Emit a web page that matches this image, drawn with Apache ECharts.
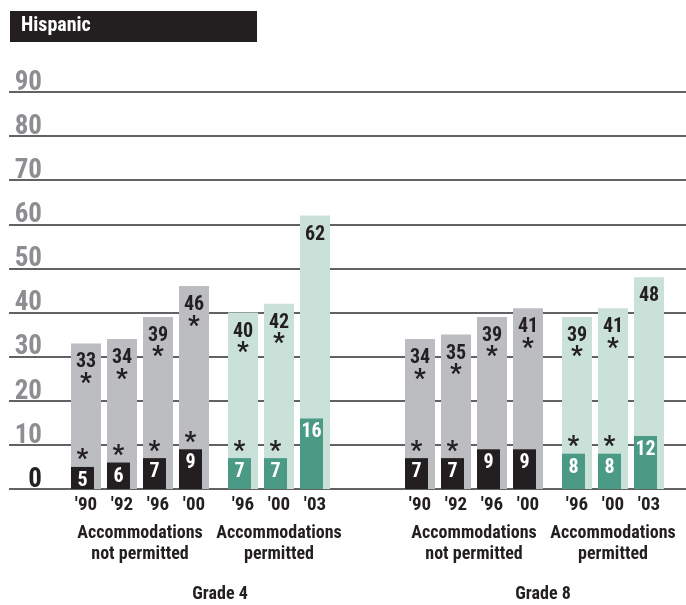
<!DOCTYPE html>
<html>
<head>
<meta charset="utf-8">
<script src="https://cdn.jsdelivr.net/npm/echarts@6/dist/echarts.min.js"></script>
<style>
  html, body { margin: 0; padding: 0; background: #fff; }
  #chart { width: 686px; height: 605px; }
</style>
</head>
<body>
<div id="chart"></div>
<script>
// Hispanic students: percentage at or above Basic / Proficient, by grade and year
const FONT = '"Roboto Condensed", "Open Sans", sans-serif';

const yMax = 90;
const yStep = 10;

const yearsNotPermitted = ["'90", "'92", "'96", "'00"];
const yearsPermitted = ["'96", "'00", "'03"];

// Grade 4
const g4BasicNP = [33, 34, 39, 46];
const g4ProfNP = [5, 6, 7, 9];
const g4BasicP = [40, 42, 62];
const g4ProfP = [7, 7, 16];
const g4BasicNPSig = [true, true, true, true];
const g4ProfNPSig = [true, true, true, true];
const g4BasicPSig = [true, true, false];
const g4ProfPSig = [true, true, false];

// Grade 8
const g8BasicNP = [34, 35, 39, 41];
const g8ProfNP = [7, 7, 9, 9];
const g8BasicP = [39, 41, 48];
const g8ProfP = [8, 8, 12];
const g8BasicNPSig = [true, true, true, true];
const g8ProfNPSig = [true, true, false, false];
const g8BasicPSig = [true, true, false];
const g8ProfPSig = [true, true, false];

const groupNames = ['Accommodations\nnot permitted', 'Accommodations\npermitted'];
const gradeNames = ['Grade 4', 'Grade 8'];
const titleText = 'Hispanic';

const COLORS = {
  npLight: '#bcbdc1',
  npDark: '#231f20',
  pLight: '#cae1da',
  pDark: '#4a9a86',
  grid: '#626265',
  tick: '#8d8e91',
  ink: '#231f20'
};

const TOP = 92, BOTTOM = 116;

const groups = [
  { left: 68,  width: 144, cats: yearsNotPermitted, basic: g4BasicNP, prof: g4ProfNP, bSig: g4BasicNPSig, pSig: g4ProfNPSig, light: COLORS.npLight, dark: COLORS.npDark, name: groupNames[0] },
  { left: 225, width: 108, cats: yearsPermitted,    basic: g4BasicP,  prof: g4ProfP,  bSig: g4BasicPSig,  pSig: g4ProfPSig,  light: COLORS.pLight,  dark: COLORS.pDark,  name: groupNames[1] },
  { left: 402, width: 144, cats: yearsNotPermitted, basic: g8BasicNP, prof: g8ProfNP, bSig: g8BasicNPSig, pSig: g8ProfNPSig, light: COLORS.npLight, dark: COLORS.npDark, name: groupNames[0] },
  { left: 559, width: 108, cats: yearsPermitted,    basic: g8BasicP,  prof: g8ProfP,  bSig: g8BasicPSig,  pSig: g8ProfPSig,  light: COLORS.pLight,  dark: COLORS.pDark,  name: groupNames[1] }
];

const grids = [{ left: 9, right: 0, top: TOP, bottom: BOTTOM }];
const xAxes = [{ gridIndex: 0, type: 'value', min: 0, max: 1, show: false }];
const yAxes = [{
  gridIndex: 0, type: 'value', min: 0, max: yMax, interval: yStep,
  axisLine: { show: false }, axisTick: { show: false },
  splitLine: { show: true, lineStyle: { color: COLORS.grid, width: 2 } },
  axisLabel: {
    inside: true, align: 'right', verticalAlign: 'bottom', margin: 33,
    formatter: v => (v === 0 ? '{z|' + v + '}' : '{g|' + v + '}'),
    rich: {
      g: { fontFamily: FONT, fontWeight: 'bold', fontSize: 27, color: COLORS.tick, lineHeight: 18 },
      z: { fontFamily: FONT, fontWeight: 'bold', fontSize: 27, color: COLORS.ink, lineHeight: 18 }
    }
  }
}];
const series = [];

groups.forEach((g, i) => {
  const gi = i + 1;
  grids.push({ left: g.left, width: g.width, top: TOP, bottom: BOTTOM });
  xAxes.push({
    gridIndex: gi, type: 'category', data: g.cats,
    axisLine: { show: false }, axisTick: { show: false },
    axisLabel: { interval: 0, margin: 7, fontFamily: FONT, fontWeight: 'bold', fontSize: 19, color: COLORS.ink },
    name: g.name, nameLocation: 'middle', nameGap: 34,
    nameTextStyle: { fontFamily: FONT, fontWeight: 'bold', fontSize: 18, color: COLORS.ink, lineHeight: 21, verticalAlign: 'top' }
  });
  yAxes.push({ gridIndex: gi, type: 'value', min: 0, max: yMax, show: false, splitLine: { show: false } });

  // dark (proficient) bar, left-aligned inside the light bar, value printed inside
  series.push({
    type: 'bar', xAxisIndex: gi, yAxisIndex: gi, z: 4,
    barWidth: 23, barGap: '-100%',
    data: g.prof,
    itemStyle: { color: g.dark },
    label: {
      show: true, position: 'insideTop', distance: 4,
      fontFamily: FONT, fontWeight: 'bold', fontSize: 20, color: '#ffffff'
    },
    silent: true
  });
  // significance marks above the dark bars
  series.push({
    type: 'bar', xAxisIndex: gi, yAxisIndex: gi, z: 5,
    barWidth: 23, barGap: '-100%',
    data: g.prof,
    itemStyle: { color: 'rgba(0,0,0,0)' },
    label: {
      show: true, position: 'top', distance: -7,
      formatter: p => (g.pSig[p.dataIndex] ? '*' : ''),
      fontFamily: FONT, fontWeight: 'bold', fontSize: 26, color: COLORS.ink
    },
    silent: true
  });
  // light (basic) bar with value and significance mark near its top
  series.push({
    type: 'bar', xAxisIndex: gi, yAxisIndex: gi, z: 3,
    barWidth: 30, barGap: '-100%',
    data: g.basic,
    itemStyle: { color: g.light },
    label: {
      show: true, position: 'insideTop', distance: 9,
      formatter: p => '{v|' + p.value + '}' + (g.bSig[p.dataIndex] ? '\n{s|*}' : ''),
      rich: {
        v: { fontFamily: FONT, fontWeight: 'bold', fontSize: 20, color: COLORS.ink, lineHeight: 20 },
        s: { fontFamily: FONT, fontWeight: 'bold', fontSize: 26, color: COLORS.ink, lineHeight: 24 }
      }
    },
    silent: true
  });
});

const chart = echarts.init(document.getElementById('chart'), null, { renderer: 'canvas' });
chart.setOption({
  animation: false,
  grid: grids,
  xAxis: xAxes,
  yAxis: yAxes,
  series: series,
  graphic: [
    { type: 'rect', left: 10, top: 11, shape: { width: 247, height: 31 }, style: { fill: COLORS.ink } },
    { type: 'text', left: 21, top: 16, style: { text: titleText, fontFamily: FONT, fontWeight: 'bold', fontSize: 20, fill: '#ffffff' } },
    { type: 'text', x: 220, y: 585, style: { text: gradeNames[0], align: 'center', fontFamily: FONT, fontWeight: 'bold', fontSize: 18, fill: COLORS.ink } },
    { type: 'text', x: 543, y: 585, style: { text: gradeNames[1], align: 'center', fontFamily: FONT, fontWeight: 'bold', fontSize: 18, fill: COLORS.ink } }
  ]
});
</script>
</body>
</html>
